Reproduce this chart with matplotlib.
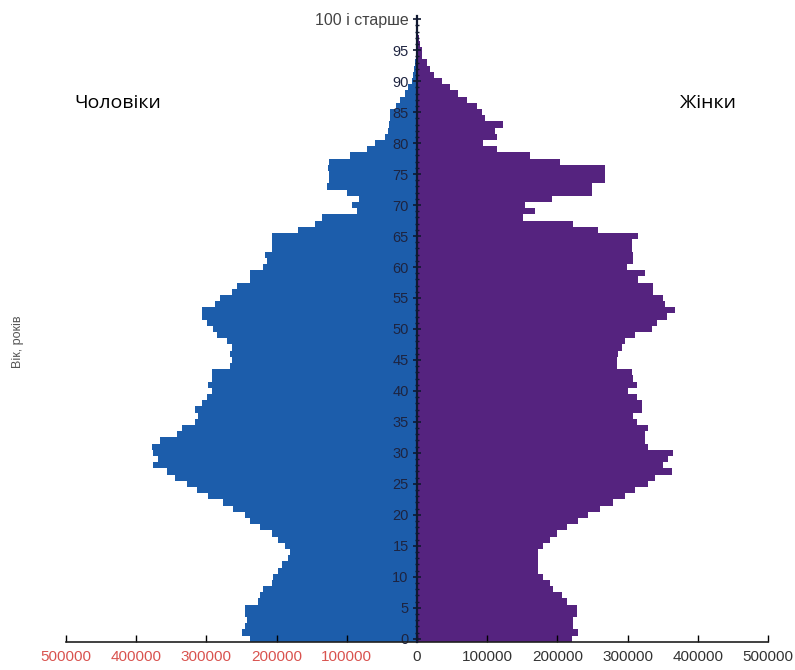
import numpy as np
import matplotlib.pyplot as plt
from matplotlib.ticker import MultipleLocator

plt.rcParams['font.family'] = ['Liberation Sans', 'DejaVu Sans']

# single years of age, 0 .. 100 (last group is "100 and older")
ages = list(range(0, 101))

men = [238, 249, 245, 242, 245, 245, 226, 223, 219, 206,
       205, 198, 192, 184, 181, 188, 198, 207, 224, 238,
       245, 262, 276, 298, 313, 328, 345, 356, 376, 369,
       376, 378, 366, 342, 335, 316, 312, 316, 306, 299,
       292, 298, 292, 292, 266, 264, 266, 264, 271, 285,
       290, 299, 306, 306, 288, 281, 264, 256, 238, 238,
       219, 214, 216, 207, 207, 207, 170, 145, 135, 85,
       93, 83, 100, 128, 125, 125, 127, 125, 95, 71,
       60, 46, 41, 40, 38, 38, 30, 24, 17, 13,
       7, 5, 4, 3, 2, 2, 1, 1, 1, 0.5, 1]

women = [221, 229, 222, 222, 228, 228, 213, 207, 194, 190,
         180, 172, 172, 172, 172, 180, 190, 199, 213, 229,
         244, 261, 279, 296, 311, 329, 339, 363, 350, 357,
         365, 329, 325, 325, 329, 313, 308, 320, 320, 313,
         301, 313, 308, 306, 285, 285, 287, 292, 296, 311,
         335, 342, 356, 368, 353, 350, 336, 336, 315, 325,
         299, 308, 308, 306, 306, 315, 258, 222, 151, 168,
         154, 192, 249, 249, 268, 268, 268, 204, 161, 114,
         94, 114, 111, 123, 97, 93, 85, 71, 59, 47,
         36, 24, 18, 14, 7, 7, 4, 3, 2, 1, 2]

# values above are in thousands of people
men = np.array(men) * 1000
women = np.array(women) * 1000

x_ticks = [-500000, -400000, -300000, -200000, -100000, 0,
           100000, 200000, 300000, 400000, 500000]
y_ticks = list(range(0, 101, 5))
y_labels = [str(a) for a in y_ticks[:-1]] + ['100 і старше']

fig = plt.figure(figsize=(7.95, 6.70), dpi=100)
ax = fig.add_axes([0.083, 0.042, 0.883, 0.934])

ax.barh(ages, -men, height=1.0, color='#1c5dab', linewidth=0)
ax.barh(ages, women, height=1.0, color='#55237f', linewidth=0)

ax.set_xlim(-500000, 500000)
ax.set_ylim(-0.5, 100.5)

for side in ['top', 'right']:
    ax.spines[side].set_visible(False)
ax.spines['left'].set_position(('data', 0))
ax.spines['left'].set_color('#101830')
ax.spines['left'].set_linewidth(1.6)
ax.spines['left'].set_zorder(3)
ax.spines['bottom'].set_color('#202020')
ax.spines['bottom'].set_linewidth(1.2)

ax.set_xticks(x_ticks)
ax.set_xticklabels([str(abs(v)) for v in x_ticks])
for lbl, v in zip(ax.get_xticklabels(), x_ticks):
    lbl.set_color('#d9534f' if v < 0 else '#333333')
ax.tick_params(axis='x', direction='in', length=5, width=1, labelsize=11, pad=6)

ax.set_yticks(y_ticks)
ax.set_yticklabels(y_labels)
ax.yaxis.set_minor_locator(MultipleLocator(1))
ax.tick_params(axis='y', which='major', direction='inout', length=6, width=1.2,
               labelsize=10.5, labelcolor='#1e2440', color='#101830', pad=3)
ax.tick_params(axis='y', which='minor', direction='inout', length=3, width=1,
               color='#101830')
ax.get_yticklabels()[-1].set_color('#444444')
ax.get_yticklabels()[-1].set_fontsize(11.5)
for lbl in ax.get_yticklabels():
    lbl.set_zorder(4)

fig.text(0.023, 0.49, 'Вік, років', rotation=90, fontsize=9, color='#555555',
         va='center', ha='center')
fig.text(0.094, 0.846, 'Чоловіки', fontsize=14, color='black',
         family=['Open Sans', 'DejaVu Sans'], va='center')
fig.text(0.855, 0.846, 'Жінки', fontsize=14, color='black',
         family=['Open Sans', 'DejaVu Sans'], va='center')

fig.savefig('out.png', dpi=100)
